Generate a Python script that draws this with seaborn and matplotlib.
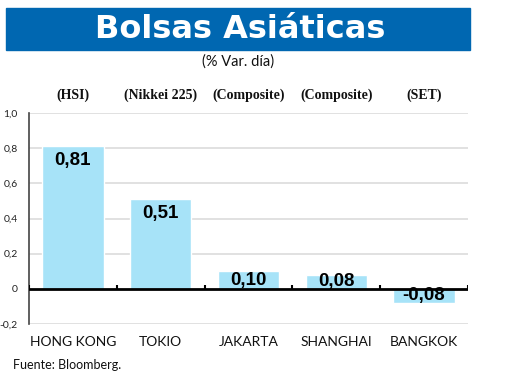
import numpy as np
import pandas as pd
import matplotlib.pyplot as plt
import matplotlib.patches as mpatches
import seaborn as sns

# datos
mercados = ['HONG KONG', 'TOKIO', 'JAKARTA', 'SHANGHAI', 'BANGKOK']
indices = ['(HSI)', '(Nikkei 225)', '(Composite)', '(Composite)', '(SET)']
var_dia = [0.81, 0.51, 0.10, 0.08, -0.08]
yticks = [-0.2, 0, 0.2, 0.4, 0.6, 0.8, 1.0]

df = pd.DataFrame({'mercado': mercados, 'var': var_dia})

sns.set_style('white')
plt.rcParams['font.family'] = ['Lato', 'DejaVu Sans']

fig = plt.figure(figsize=(5.2, 3.9), dpi=100)
ax = fig.add_axes([29 / 520, 1 - 324 / 390, 439 / 520, 211 / 390])

sns.barplot(data=df, x='mercado', y='var', color='#a7e3f8', saturation=1,
            width=0.7, ax=ax)

ax.set_xlim(-0.5, len(mercados) - 0.5)
ax.set_ylim(-0.2, 1.0)
ax.set_yticks(yticks)
ax.set_yticklabels([('%.1f' % t).replace('.', ',') if t != 0 else '0' for t in yticks],
                   fontsize=7.5, color='#222222')
ax.tick_params(axis='y', length=0, pad=8)
ax.tick_params(axis='x', length=0, pad=9, labelsize=10, labelcolor='#111111')
ax.set_xlabel('')
ax.set_ylabel('')

# rejilla
for t in yticks:
    if t != 0:
        ax.axhline(t, color='#dcdcdc', lw=1.2, zorder=0)
for s in ['top', 'right', 'bottom']:
    ax.spines[s].set_visible(False)
ax.spines['left'].set_color('#444444')
ax.spines['left'].set_linewidth(1.2)

# linea del cero con marcas
ax.axhline(0, color='black', lw=2, zorder=3)
bordes = np.arange(len(mercados) + 1) - 0.5
ax.vlines(bordes, 0, 0.02, color='black', lw=1.5, zorder=3)

# etiquetas de valor
for i, v in enumerate(var_dia):
    yy = v / 2 if abs(v) < 0.2 else v - 0.08
    ax.text(i, yy, ('%.2f' % v).replace('.', ','), ha='center', va='center',
            fontsize=13.5, fontweight='bold', family=['Liberation Sans', 'DejaVu Sans'],
            color='black', zorder=4)

# indices encima
for i, nom in enumerate(indices):
    ax.annotate(nom, xy=(i, 1.0), xycoords=('data', 'axes fraction'),
                xytext=(0, 8), textcoords='offset points', ha='center', va='bottom',
                fontsize=10, fontweight='bold', family=['Liberation Serif', 'DejaVu Serif'],
                color='#111111')

# cabecera
fig.patches.append(mpatches.Rectangle((6 / 520, 1 - 50 / 390), 464 / 520, 42 / 390,
                                      transform=fig.transFigure, color='#0067b1', zorder=0))
fig.text(240 / 520, 1 - 30 / 390, 'Bolsas Asiáticas', ha='center', va='center',
         fontsize=23, fontweight='bold', family=['DejaVu Sans'], color='white')
fig.text(238 / 520, 1 - 62 / 390, '(% Var. día)', ha='center', va='center',
         fontsize=10.5, color='#111111')
fig.text(13 / 520, 1 - 365 / 390, 'Fuente: Bloomberg.', ha='left', va='center',
         fontsize=9, color='#111111')

fig.savefig('out.png', dpi=100)
